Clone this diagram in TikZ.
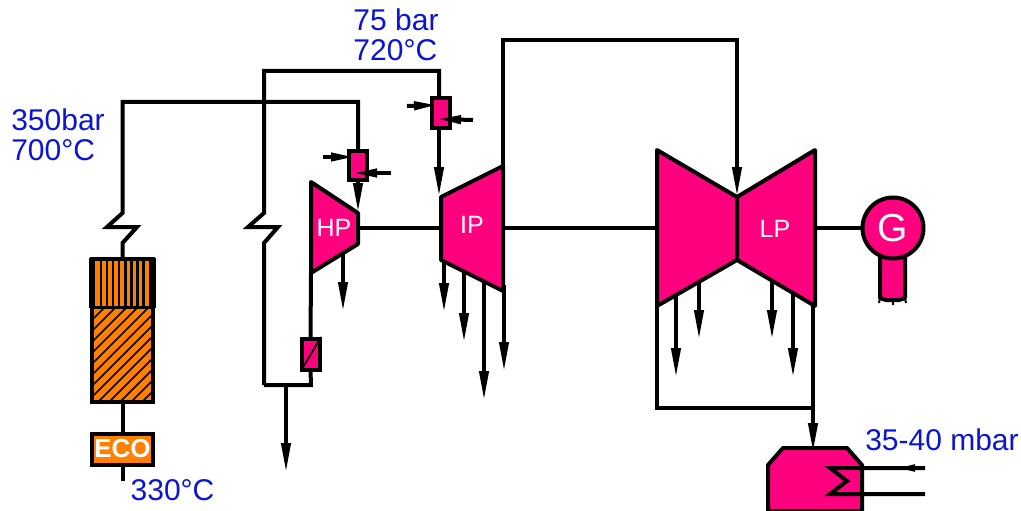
\documentclass[tikz,border=0pt]{standalone}
\usepackage{fontspec}
\setmainfont{Liberation Sans}
\usetikzlibrary{arrows.meta}
\definecolor{plantpink}{HTML}{FF007F}
\definecolor{plantorange}{HTML}{FF8000}
\definecolor{plantblue}{HTML}{0A14D2}
\tikzset{
  pipe/.style={line width=4pt, line join=miter},
  steam/.style={pipe, -{Triangle[length=30pt,width=9pt]}},
  small/.style={line width=4pt, -{Triangle[length=24pt,width=8pt]}},
  casing/.style={pipe, fill=plantpink, line join=round},
  rhbox/.style={draw, line width=4pt, fill=plantpink, minimum width=18pt, minimum height=30pt, inner sep=0pt, outer sep=0pt},
  blade/.style={text=white, font=\fontsize{25}{27}\selectfont, inner sep=0pt},
  value/.style={text=plantblue, font=\fontsize{30}{30}\selectfont, inner sep=0pt, align=left}
}
\begin{document}
\begin{tikzpicture}[x=1pt, y=-1pt]
  \useasboundingbox (0,0) rectangle (1021,511);
  % boiler
  \node[draw, line width=4pt, fill=plantorange, minimum width=61pt, minimum height=143pt, inner sep=0pt, outer sep=0pt] (boiler) at (122.5,330.5) {};
  \coordinate (split) at (122.5,307.5);
  \foreach \x in {101,107,113,119,125.5,131.5,137.5,143.5}
    \draw[line width=2.6pt] (\x,260) -- (\x,306);
  \fill (89,258) rectangle (95,308);
  \fill (149,258) rectangle (156,308);
  \draw[line width=3.4pt] (boiler.west |- split) -- (boiler.east |- split);
  \begin{scope}
    \clip (92,309) rectangle (153,400);
    \foreach \a in {0,11,...,165}
      \draw[line width=1.5pt] (92,309+\a) -- (153,248+\a);
  \end{scope}
  \node[draw, line width=4pt, fill=plantorange, minimum width=61pt, minimum height=31pt, inner sep=0pt, outer sep=0pt, text=white, font=\bfseries\fontsize{26}{28}\selectfont] (eco) at (122.5,449) {ECO};
  \coordinate (ecoend) at (122.5,481);
  \draw[pipe] (boiler.south) -- (eco.north);
  \draw[pipe] (eco.south) -- (ecoend);
  % live steam
  \node[rhbox, minimum width=18pt, minimum height=29pt] (rhhp) at (358,165.5) {};
  \node[rhbox, minimum width=18pt, minimum height=30pt] (rhip) at (441,113) {};
  \coordinate (hpin) at (358,213);
  \coordinate (ipin) at (439,197);
  \draw[pipe] (boiler.north) -- (122.5,243) -- (137,227) -- (107,227) -- (122.5,213) -- (122.5,102) -- (358,102) -- (rhhp.north);
  \draw[pipe] (264,385) -- (264,243) -- (278,227) -- (248,227) -- (264,213) -- (264,71) -- (439,71) -- (439,97);
  % turbines
  \coordinate (hpa) at (311,182);
  \coordinate (hpb) at (358,213);
  \coordinate (hpc) at (358,244);
  \coordinate (hpd) at (311,273);
  \coordinate (ipa) at (441,197);
  \coordinate (ipb) at (503,166);
  \coordinate (ipc) at (503,291);
  \coordinate (ipd) at (441,260);
  \coordinate (lpa) at (657,150);
  \coordinate (lpb) at (737,197);
  \coordinate (lpc) at (737,260);
  \coordinate (lpd) at (657,306);
  \coordinate (lpe) at (815,150);
  \coordinate (lpf) at (815,306);
  \coordinate (shafta) at (358,228);
  \coordinate (shaftb) at (441,228);
  \coordinate (shaftc) at (503,228);
  \coordinate (shaftd) at (657,228);
  \coordinate (shafte) at (815,228);
  \draw[pipe] (shafta) -- (shaftb);
  \draw[pipe] (shaftc) -- (shaftd);
  % extractions
  \foreach \n/\x/\a/\b in {a/343/250/312, b/444/255/313, c/464/265/343, d/484/275/401, e/504/285/372, f/676/290/378, g/699/278/340, h/772/280/340, i/793/290/378}{
    \coordinate (ext\n a) at (\x,\a);
    \coordinate (ext\n b) at (\x,\b);
    \draw[steam] (ext\n a) -- (ext\n b);
  }
  \draw[casing] (hpa) -- (hpb) -- (hpc) -- (hpd) -- cycle;
  \draw[casing] (ipa) -- (ipb) -- (ipc) -- (ipd) -- cycle;
  \draw[casing] (lpa) -- (lpb) -- (lpc) -- (lpd) -- cycle;
  \draw[casing] (lpe) -- (lpb) -- (lpc) -- (lpf) -- cycle;
  \node[blade] (hp) at (334,228) {HP};
  \node[blade] (ip) at (472,225) {IP};
  \node[blade] (lp) at (775,229) {LP};
  % reheat and crossover
  \draw[steam] (rhhp.south) -- (hpin);
  \draw[pipe] (439,129) -- (439,170);
  \draw[steam] (439,160) -- (ipin);
  \draw[pipe] (ipb) -- (503,40) -- (737,40) -- (737,170);
  \draw[steam] (737,160) -- (lpb);
  \foreach \n/\x/\y/\u/\v in {a/323/157/355/157, b/391/173/353/173, c/407/106/438/105, d/473/120/437/119}{
    \coordinate (spray\n a) at (\x,\y);
    \coordinate (spray\n b) at (\u,\v);
    \draw[small] (spray\n a) -- (spray\n b);
  }
  % hp exhaust
  \node[rhbox, minimum width=18pt, minimum height=31pt] (rhlow) at (310.5,354.5) {};
  \draw[line width=1.8pt] (rhlow.south west) -- (321,337);
  \coordinate (low) at (311,385);
  \coordinate (lowtap) at (286,385);
  \coordinate (lowend) at (286,473);
  \draw[pipe] (hpd) -- (rhlow.north);
  \draw[pipe] (rhlow.south) -- (low) -- (264,385);
  \draw[steam] (lowtap) -- (lowend);
  % condenser
  \coordinate (conda) at (657,408);
  \coordinate (condb) at (813,408);
  \coordinate (condc) at (813,453);
  \draw[pipe] (lpd) -- (conda) -- (condb);
  \draw[pipe] (813,306) -- (813,440);
  \draw[casing] (768,465) -- (783,448) -- (847,448) -- (862,465) -- (862,511) -- (768,511) -- cycle;
  \draw[steam] (813,425) -- (condc);
  \coordinate (cwin) at (925,468);
  \coordinate (cwout) at (925,494);
  \draw[pipe] (cwin) -- (830,468) -- (847,481) -- (830,494) -- (cwout);
  \draw[line width=4pt, -{Triangle[length=22pt,width=6pt]}] (cwin) -- (893,468);
  % generator
  \draw[casing] (880,252) -- (880,298) -- (886,300) -- (899,300) -- (905,298) -- (905,252) -- cycle;
  \draw[line width=2pt] (880,298) -- (879,303) (893,300) -- (893,305) (905,298) -- (906,303);
  \node[draw, circle, line width=4pt, fill=plantpink, minimum size=61pt, inner sep=0pt, outer sep=0pt, text=white, font=\fontsize{39}{41}\selectfont] (gen) at (893,228) {G};
  \draw[pipe] (shafte) -- (gen.west);
  % values
  \node[value] (live) at (58,135) {350bar\\700°C};
  \node[value] (reheat) at (396,35) {75 bar\\720°C};
  \node[value] (feed) at (172.5,490) {330°C};
  \node[value] (vac) at (942,440) {35-40 mbar};
\end{tikzpicture}
\end{document}
